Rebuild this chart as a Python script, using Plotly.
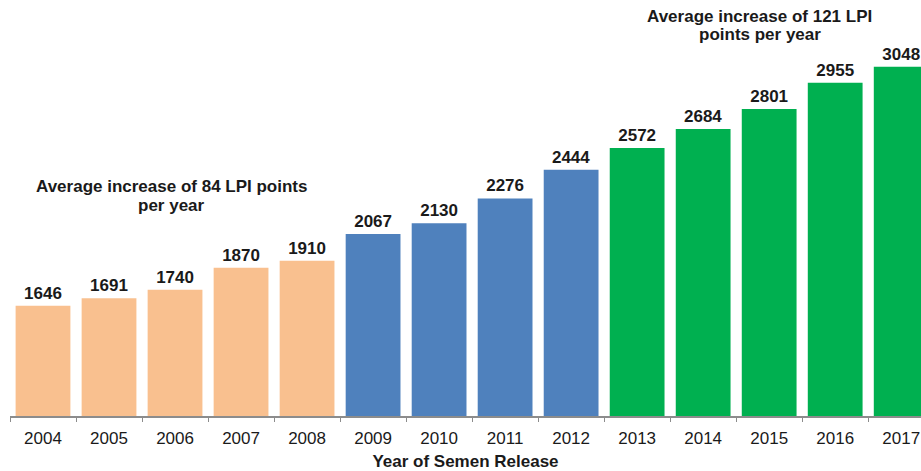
import plotly.graph_objects as go

years = ["2004", "2005", "2006", "2007", "2008", "2009", "2010",
         "2011", "2012", "2013", "2014", "2015", "2016", "2017"]
lpi = [1646, 1691, 1740, 1870, 1910, 2067, 2130, 2276, 2444,
       2572, 2684, 2801, 2955, 3048]
period = ["early"] * 5 + ["mid"] * 4 + ["late"] * 5
period_colors = {"early": "#F9C08F", "mid": "#4F81BD", "late": "#00B050"}
note_early = ["Average increase of 84 LPI points", "per year"]
note_late = ["Average increase of 121 LPI", "points per year"]

fig = go.Figure(go.Bar(
    x=years, y=lpi,
    marker=dict(color=[period_colors[p] for p in period], line=dict(width=0)),
    width=0.83,
    text=[str(v) for v in lpi],
    textposition="outside",
    textfont=dict(family="Liberation Sans, Arial", size=17, color="#1a1a1a"),
    texttemplate="<b>%{text}</b>",
    cliponaxis=False,
    hoverinfo="skip",
))

fig.update_layout(
    width=921, height=471,
    margin=dict(l=10, r=0, t=0, b=55),
    plot_bgcolor="white", paper_bgcolor="white",
    showlegend=False,
    font=dict(family="Liberation Sans, Arial", color="#1a1a1a"),
)
fig.update_xaxes(
    type="category",
    range=[-0.5, 13.3],
    showline=True, linecolor="#8c8c8c", linewidth=1.5,
    ticks="outside", tickson="boundaries", ticklen=4, tickcolor="#8c8c8c",
    ticklabelstandoff=6,
    tickfont=dict(size=17, color="#1a1a1a"),
    title=dict(text="<b>Year of Semen Release</b>", font=dict(size=17), standoff=8),
    showgrid=False,
)
fig.update_yaxes(range=[1000, 3440], visible=False, showgrid=False)

for line, yv in zip(note_early, [2349, 2232]):
    fig.add_annotation(x=1.95, y=yv, xref="x", yref="y", text="<b>" + line + "</b>",
                       showarrow=False, font=dict(size=17), align="center")
for line, yv in zip(note_late, [3346, 3235]):
    fig.add_annotation(x=10.86, y=yv, xref="x", yref="y", text="<b>" + line + "</b>",
                       showarrow=False, font=dict(size=17), align="center")

fig.write_html(
    "out.html",
    config={"displayModeBar": False},
    post_script="document.body.style.margin='0';document.body.style.overflow='hidden';",
)
